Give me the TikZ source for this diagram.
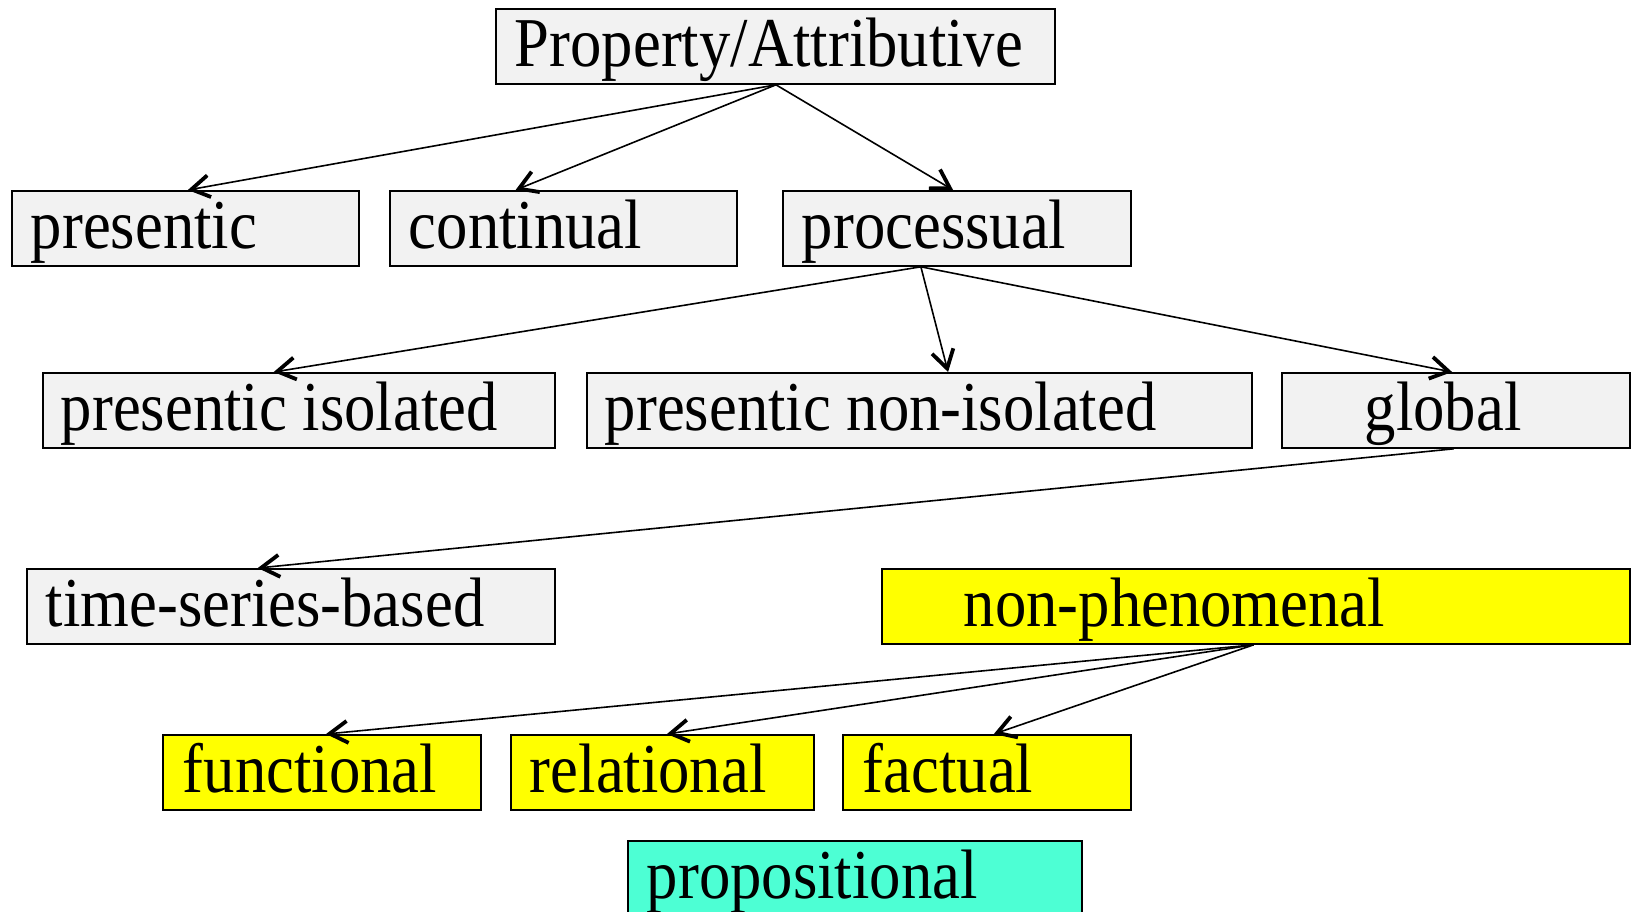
\documentclass[tikz,border=0pt]{standalone}
\usepackage{fontspec}
\setmainfont{Liberation Serif}
\usepackage{graphicx}
\usetikzlibrary{arrows.meta,calc}

\definecolor{boxgray}{HTML}{F2F2F2}
\definecolor{boxyellow}{HTML}{FFFF00}
\definecolor{boxcyan}{HTML}{4DFFD4}

% labels are set slightly condensed
\newcommand\narrow[1]{\scalebox{0.895}[1]{#1}}
% \boxnode{name}{left}{top}{right}{style}{left pad}{label}
\newcommand\boxnode[7]{%
  \pgfmathsetmacro\boxw{(#4-#2)*0.5}%
  \node[#5, minimum width=\boxw pt] (#1) at (#2,#3)
    {\makebox[\boxw pt][l]{\hspace*{#6pt}\narrow{#7}}};}
% point at a fraction along the top or bottom edge of a box
\newcommand\topat[2]{($(#1.north west)!#2!(#1.north east)$)}
\newcommand\botat[2]{($(#1.south west)!#2!(#1.south east)$)}

\tikzset{
  box/.style={draw=black, line width=0.9pt, anchor=north west,
    inner xsep=0pt, inner ysep=0pt, text height=29pt, text depth=8.5pt,
    font=\fontsize{35}{40}\selectfont},
  graybox/.style={box, fill=boxgray},
  yellowbox/.style={box, fill=boxyellow},
  cyanbox/.style={box, fill=boxcyan},
  conn/.style={line width=0.8pt,
    -{Straight Barb[length=9pt, width=11pt, line width=1.9pt]}},
}

\begin{document}
\begin{tikzpicture}[x=0.5pt, y=-0.5pt]
\useasboundingbox (0,0) rectangle (1631,911);

% boxes
\boxnode{prop}{495}{8}{1054}{graybox}{9.5}{Property/Attributive}
\boxnode{pres}{11}{190}{358}{graybox}{9.5}{presentic}
\boxnode{cont}{389}{190}{736}{graybox}{9.5}{continual}
\boxnode{proc}{782}{190}{1130}{graybox}{9.5}{processual}
\boxnode{iso}{42}{372}{554}{graybox}{9}{presentic isolated}
\boxnode{noniso}{586}{372}{1251}{graybox}{9}{presentic non-isolated}
\boxnode{glob}{1281}{372}{1629}{graybox}{41.5}{global}
\boxnode{tsb}{26}{568}{554}{graybox}{9.5}{time-series-based}
\boxnode{nonphen}{881}{568}{1629}{yellowbox}{41}{non-phenomenal}
\boxnode{func}{162}{734}{480}{yellowbox}{10}{functional}
\boxnode{rel}{510}{734}{813}{yellowbox}{9.5}{relational}
\boxnode{fact}{842}{734}{1130}{yellowbox}{10}{factual}
\boxnode{propos}{627}{840}{1081}{cyanbox}{9.5}{propositional}

% connectors
\draw[conn] \botat{prop}{0.501} -- \topat{pres}{0.507};
\draw[conn] \botat{prop}{0.501} -- \topat{cont}{0.363};
\draw[conn] \botat{prop}{0.501} -- \topat{proc}{0.489};
\draw[conn] \botat{proc}{0.397} -- \topat{iso}{0.451};
\draw[conn] \botat{proc}{0.397} -- \topat{noniso}{0.543};
\draw[conn] \botat{proc}{0.397} -- \topat{glob}{0.489};
\draw[conn] \botat{glob}{0.494} -- \topat{tsb}{0.4375};
\draw[conn] \botat{nonphen}{0.497} -- \topat{func}{0.513};
\draw[conn] \botat{nonphen}{0.497} -- \topat{rel}{0.515};
\draw[conn] \botat{nonphen}{0.497} -- \topat{fact}{0.524};
\end{tikzpicture}
\end{document}
